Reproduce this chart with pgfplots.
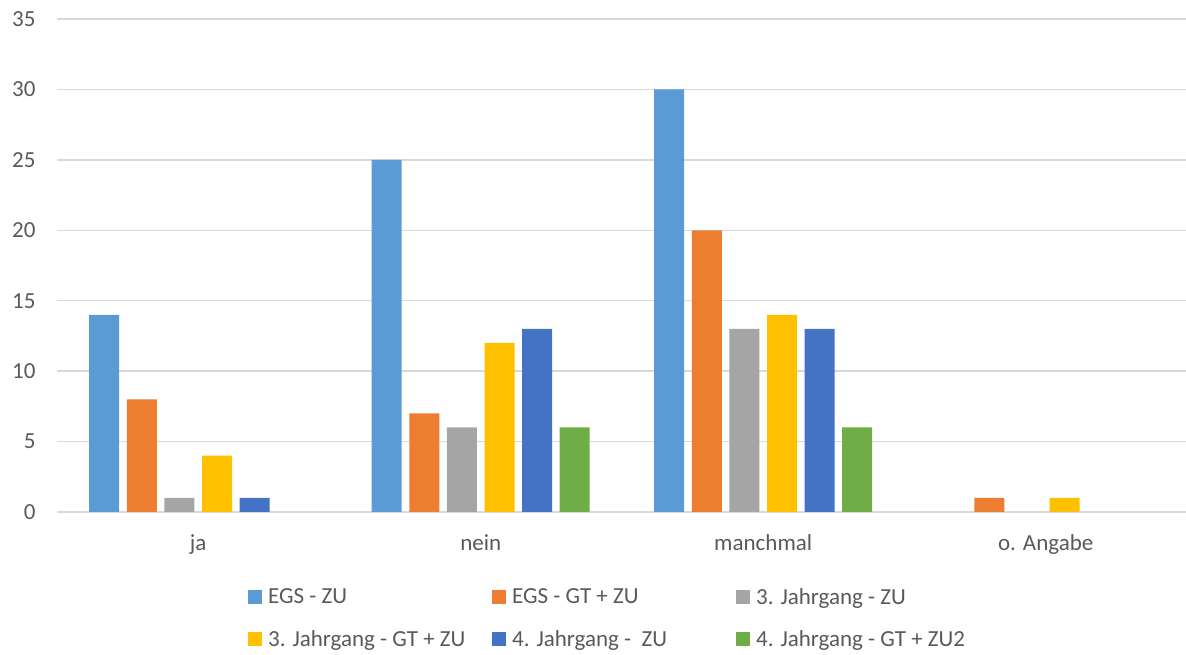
\documentclass[border=0pt]{standalone}
\usepackage{pgfplots}
\pgfplotsset{compat=1.18}
\usepackage{fontspec}
\setmainfont{Carlito}
\definecolor{c1}{HTML}{5B9BD5}
\definecolor{c2}{HTML}{ED7D31}
\definecolor{c3}{HTML}{A5A5A5}
\definecolor{c4}{HTML}{FFC000}
\definecolor{c5}{HTML}{4472C4}
\definecolor{c6}{HTML}{70AD47}
\definecolor{txt}{HTML}{595959}
\definecolor{grd}{HTML}{D9D9D9}
\newcommand{\legtxt}[1]{\makebox[230pt][l]{\hspace{6pt}#1}}
\begin{document}
\begin{tikzpicture}
\useasboundingbox (-57pt,-143pt) rectangle (1129pt,512pt);
\begin{axis}[
  at={(0,0)}, anchor=south west,
  scale only axis, width=1130pt, height=493pt,
  ybar=7.6pt, bar width=30pt,
  xmin=-0.5, xmax=3.5, ymin=0, ymax=35,
  xtick={0,1,2,3}, xticklabels={ja,nein,manchmal,o. Angabe},
  ytick={0,5,...,35},
  axis line style={draw=none},
  tick style={draw=none},
  ymajorgrids, grid style={grd, line width=1.3pt},
  extra y ticks={0}, extra y tick labels={}, extra y tick style={grid style={grd, line width=1.6pt}},
  tick label style={font=\fontsize{23}{26}\selectfont, text=txt},
  /pgf/number format/assume math mode=true,
  yticklabel style={xshift=-18pt},
  xticklabel style={yshift=-15pt},
  every axis plot/.append style={draw=none,
    legend image code/.code={\fill[##1] (0pt,-7pt) rectangle (14pt,7pt);}},
  legend columns=3,
  legend style={at={(0.169,-0.154)}, anchor=north west, draw=none, fill=none,
    inner sep=0pt, font=\fontsize{23}{26}\selectfont, text=txt,
    nodes={inner sep=0pt},
    /tikz/every odd column/.append style={column sep=0pt},
    /tikz/every even column/.append style={column sep=0pt},
    row sep=25pt},
  legend cell align=left,
]
\addplot[fill=c1] coordinates {(0,14) (1,25) (2,30)};
\addplot[fill=c2] coordinates {(0,8) (1,7) (2,20) (3,1)};
\addplot[fill=c3] coordinates {(0,1) (1,6) (2,13)};
\addplot[fill=c4] coordinates {(0,4) (1,12) (2,14) (3,1)};
\addplot[fill=c5] coordinates {(0,1) (1,13) (2,13)};
\addplot[fill=c6] coordinates {(1,6) (2,6)};
\legend{\legtxt{EGS - ZU},\legtxt{EGS - GT + ZU},\legtxt{3. Jahrgang - ZU},
  \legtxt{3. Jahrgang - GT + ZU},\legtxt{4. Jahrgang - \ ZU},\legtxt{4. Jahrgang - GT + ZU2}}
\end{axis}
\end{tikzpicture}
\end{document}
